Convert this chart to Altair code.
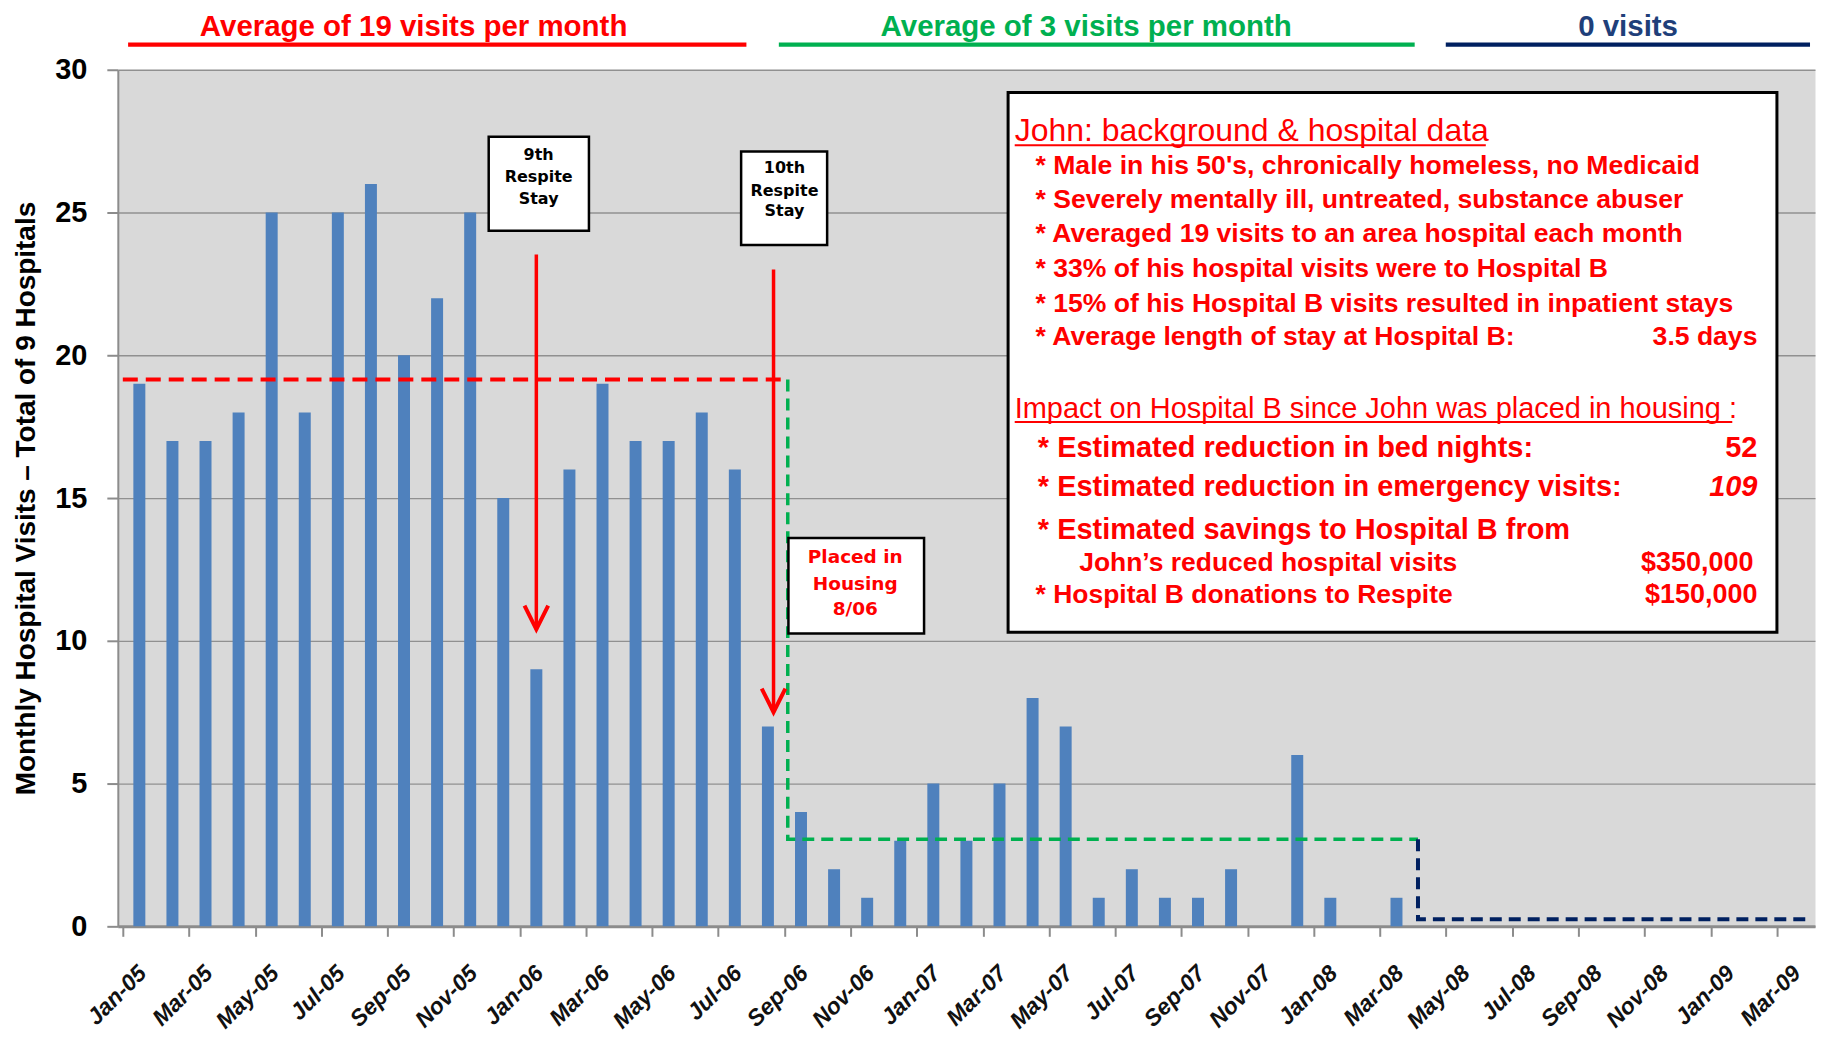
import altair as alt
import pandas as pd

# ---------------- data ----------------
months = list(pd.date_range("2005-01-01", "2009-03-01", freq="MS").strftime("%b-%y"))  # Jan-05 .. Mar-09
visits = [19, 17, 17, 18, 25, 18, 25, 26, 20, 22, 25, 15,   # 2005
          9, 16, 19, 17, 17, 18, 16, 7, 4, 2, 1, 3,          # 2006
          5, 3, 5, 8, 7, 1, 2, 1, 1, 2, 0, 6,                # 2007
          1, 0, 1]                                           # 2008 (Jan-Mar)

avg_before = 19.15
avg_after = 3.05
avg_none = 0.25
step_breaks = [20.1, 39.15]          # month index where the averages change

header_texts = ["Average of 19 visits per month", "Average of 3 visits per month", "0 visits"]

respite_x = [12.5, 19.67]            # month index of the two respite stays
respite_top = [23.53, 23.0]
respite_tip = [10.4, 7.5]

box9_lines = ["9th", "Respite", "Stay"]
box10_lines = ["10th", "Respite", "Stay"]
placed_lines = ["Placed in", "Housing", "8/06"]

panel_title1 = "John: background & hospital data"
panel_bullets = [
    "* Male in his 50's, chronically homeless, no Medicaid",
    "* Severely mentally ill, untreated, substance abuser",
    "* Averaged 19 visits to an area hospital each month",
    "* 33% of his hospital visits were to Hospital B",
    "* 15% of his Hospital B visits resulted in inpatient stays",
    "* Average length of stay at Hospital B:",
]
stay_value = "3.5 days"
panel_title2 = "Impact on Hospital B since John was placed in housing :"
impact_big = [
    "* Estimated reduction in bed nights:",
    "* Estimated reduction in emergency visits:",
    "* Estimated savings to Hospital B from",
]
impact_sub = "John’s reduced hospital visits"
impact_don = "* Hospital B donations to Respite"
val_beds = "52"
val_er = "109"
val_savings = "$350,000"
val_donations = "$150,000"

# ---------------- style ----------------
FONT = "Liberation Sans"
BOXFONT = "DejaVu Sans"
RED = "#ff0000"
GREEN = "#00b050"
NAVY = "#002060"
BLUE = "#4f81bd"
W, H = 1700, 858

xs = alt.Scale(domain=[0, 51], nice=False, zero=False)
ys = alt.Scale(domain=[0, 30], nice=False, zero=True)

label_expr = "[" + ",".join("'%s'" % m for m in months[::2]) + "][datum.value / 2]"

x_axis = alt.Axis(
    values=list(range(0, 51, 2)), labelExpr=label_expr, title=None, grid=False,
    labelAngle=-45, labelAlign="right", labelBaseline="middle",
    labelOffset=W / 51 / 2 + 3, labelPadding=33, labelFlush=False, labelOverlap=False,
    labelFont=FONT, labelFontSize=23, labelFontStyle="italic", labelFontWeight="bold",
    labelColor="#111111",
    tickSize=10, tickWidth=2, tickColor="#8c8c8c", domainColor="#8c8c8c", domainWidth=3,
)
y_axis = alt.Axis(
    values=[0, 5, 10, 15, 20, 25, 30], title="Monthly Hospital Visits – Total of 9 Hospitals",
    grid=True, gridColor="#909090", gridWidth=1.3,
    labelFont=FONT, labelFontSize=29, labelFontWeight="bold", labelColor="#000000", labelPadding=20,
    tickSize=11, tickWidth=2, tickColor="#8c8c8c", domainColor="#8c8c8c", domainWidth=2,
    titleFont=FONT, titleFontSize=28, titleFontWeight="bold", titleColor="#000000", titlePadding=14,
)


def X(field):
    return alt.X(field, type="quantitative", scale=xs, axis=x_axis)


def Y(field):
    return alt.Y(field, type="quantitative", scale=ys, axis=y_axis)


# ---------------- tables ----------------
bars_df = pd.DataFrame({"month": months[:len(visits)],
                        "x": [i + 0.5 for i in range(len(visits))],
                        "visits": visits})

red_df = pd.DataFrame({"x": [0, step_breaks[0]], "y": [avg_before, avg_before], "o": [0, 1]})
green_df = pd.DataFrame({"x": [step_breaks[0], step_breaks[0], step_breaks[1]],
                         "y": [avg_before, avg_after, avg_after], "o": [0, 1, 2]})
navy_df = pd.DataFrame({"x": [step_breaks[1], step_breaks[1], 51],
                        "y": [avg_after, avg_none, avg_none], "o": [0, 1, 2]})

arrows_df = pd.DataFrame({"x": respite_x, "top": respite_top, "tip": respite_tip})

header_df = pd.DataFrame({"t": header_texts, "x": [8.79, 29.12, 45.5], "y": [31.5] * 3,
                          "c": [RED, GREEN, "#1f3f7a"]})
header_lines_df = pd.DataFrame({"x0": [0.16, 19.83, 39.99], "x1": [18.85, 39.05, 51.0],
                                "y": [30.88] * 3, "c": [RED, GREEN, NAVY]})

small_boxes_df = pd.DataFrame({"x0": [11.06, 18.69, 20.12], "x1": [14.09, 21.29, 24.22],
                               "y0": [27.65, 27.14, 13.6], "y1": [24.36, 23.86, 10.26]})
box9_df = pd.DataFrame({"t": box9_lines, "x": [12.57] * 3, "y": [27.03, 26.24, 25.49]})
box10_df = pd.DataFrame({"t": box10_lines, "x": [20.0] * 3, "y": [26.56, 25.74, 25.05]})
placed_df = pd.DataFrame({"t": placed_lines, "x": [22.14] * 3, "y": [12.93, 12.0, 11.13]})

panel_df = pd.DataFrame({"x0": [26.76], "x1": [50.0], "y0": [29.2], "y1": [10.3]})
ptitle1_df = pd.DataFrame({"t": [panel_title1], "x": [26.96], "y": [27.87]})
ptitle2_df = pd.DataFrame({"t": [panel_title2], "x": [26.96], "y": [18.13]})
underline_df = pd.DataFrame({"x0": [26.96, 26.96], "x1": [41.2, 48.65], "y": [27.36, 17.66]})
bullets_df = pd.DataFrame({"t": panel_bullets, "x": [27.59] * 6,
                           "y": [26.62, 25.45, 24.23, 23.02, 21.81, 20.63]})
stay_df = pd.DataFrame({"t": [stay_value], "x": [49.41], "y": [20.63]})
big_df = pd.DataFrame({"t": impact_big, "x": [27.66] * 3, "y": [16.75, 15.38, 13.88]})
sub_df = pd.DataFrame({"t": [impact_sub, impact_don], "x": [28.91, 27.59], "y": [12.71, 11.62]})
vals_big_df = pd.DataFrame({"t": [val_beds], "x": [49.41], "y": [16.75]})
vals_it_df = pd.DataFrame({"t": [val_er], "x": [49.41], "y": [15.38]})
vals_money_df = pd.DataFrame({"t": [val_savings, val_donations], "x": [49.29, 49.41], "y": [12.71, 11.62]})

# ---------------- layers ----------------
bars = alt.Chart(bars_df).mark_bar(size=12, color=BLUE, orient="vertical").encode(
    x=X("x"), y=Y("visits"))

red_line = alt.Chart(red_df).mark_line(color=RED, strokeWidth=4, strokeDash=[15, 8]).encode(
    x=X("x"), y=Y("y"), order="o:Q")
green_line = alt.Chart(green_df).mark_line(color=GREEN, strokeWidth=3.5, strokeDash=[12, 7]).encode(
    x=X("x"), y=Y("y"), order="o:Q")
navy_line = alt.Chart(navy_df).mark_line(color=NAVY, strokeWidth=4, strokeDash=[12, 7]).encode(
    x=X("x"), y=Y("y"), order="o:Q")

arrow_shaft = alt.Chart(arrows_df).mark_rule(color=RED, strokeWidth=3.5).encode(
    x=X("x"), y=Y("top"), y2="tip")
arrow_head = alt.Chart(arrows_df).mark_point(
    shape="M-1,-2L0,0L1,-2", size=480, filled=False, strokeWidth=4, color=RED, opacity=1,
    strokeCap="square").encode(x=X("x"), y=Y("tip"))

small_boxes = alt.Chart(small_boxes_df).mark_rect(fill="white", stroke="black", strokeWidth=2.5).encode(
    x=X("x0"), x2="x1", y=Y("y0"), y2="y1")
box9 = alt.Chart(box9_df).mark_text(font=BOXFONT, fontSize=16, fontWeight="bold", color="black",
                                    align="center", baseline="middle").encode(x=X("x"), y=Y("y"), text="t")
box10 = alt.Chart(box10_df).mark_text(font=BOXFONT, fontSize=16, fontWeight="bold", color="black",
                                      align="center", baseline="middle").encode(x=X("x"), y=Y("y"), text="t")
placed = alt.Chart(placed_df).mark_text(font=BOXFONT, fontSize=18.5, fontWeight="bold", color=RED,
                                        align="center", baseline="middle").encode(x=X("x"), y=Y("y"), text="t")

panel = alt.Chart(panel_df).mark_rect(fill="white", stroke="black", strokeWidth=3).encode(
    x=X("x0"), x2="x1", y=Y("y0"), y2="y1")
ptitle1 = alt.Chart(ptitle1_df).mark_text(font=FONT, fontSize=32, color=RED, align="left",
                                          baseline="middle").encode(x=X("x"), y=Y("y"), text="t")
ptitle2 = alt.Chart(ptitle2_df).mark_text(font=FONT, fontSize=29, color=RED, align="left",
                                          baseline="middle").encode(x=X("x"), y=Y("y"), text="t")
underline = alt.Chart(underline_df).mark_rule(color=RED, strokeWidth=2).encode(
    x=X("x0"), x2="x1", y=Y("y"))
bullets = alt.Chart(bullets_df).mark_text(font=FONT, fontSize=26.6, fontWeight="bold", color=RED,
                                          align="left", baseline="middle").encode(x=X("x"), y=Y("y"), text="t")
stay = alt.Chart(stay_df).mark_text(font=FONT, fontSize=26.6, fontWeight="bold", color=RED,
                                    align="right", baseline="middle").encode(x=X("x"), y=Y("y"), text="t")
big = alt.Chart(big_df).mark_text(font=FONT, fontSize=29, fontWeight="bold", color=RED,
                                  align="left", baseline="middle").encode(x=X("x"), y=Y("y"), text="t")
sub = alt.Chart(sub_df).mark_text(font=FONT, fontSize=26.5, fontWeight="bold", color=RED,
                                  align="left", baseline="middle").encode(x=X("x"), y=Y("y"), text="t")
vals_big = alt.Chart(vals_big_df).mark_text(font=FONT, fontSize=29, fontWeight="bold", color=RED,
                                            align="right", baseline="middle").encode(x=X("x"), y=Y("y"), text="t")
vals_it = alt.Chart(vals_it_df).mark_text(font=FONT, fontSize=29, fontWeight="bold", fontStyle="italic",
                                          color=RED, align="right", baseline="middle").encode(
    x=X("x"), y=Y("y"), text="t")
vals_money = alt.Chart(vals_money_df).mark_text(font=FONT, fontSize=27, fontWeight="bold", color=RED,
                                                align="right", baseline="middle").encode(
    x=X("x"), y=Y("y"), text="t")

headers = alt.Chart(header_df).mark_text(font=FONT, fontSize=29.5, fontWeight="bold", align="center",
                                         baseline="middle").encode(
    x=X("x"), y=Y("y"), text="t", color=alt.Color("c:N", scale=None))
header_lines = alt.Chart(header_lines_df).mark_rule(strokeWidth=4.5).encode(
    x=X("x0"), x2="x1", y=Y("y"), color=alt.Color("c:N", scale=None))

chart = alt.layer(
    bars, red_line, green_line, navy_line, arrow_shaft, arrow_head,
    small_boxes, box9, box10, placed,
    panel, ptitle1, ptitle2, underline, bullets, stay, big, sub, vals_big, vals_it, vals_money,
    headers, header_lines,
).properties(
    width=W, height=H,
    padding={"left": 4, "top": 3, "right": 0, "bottom": 0},
).configure_view(fill="#d9d9d9", stroke="transparent")

chart.save("out.html", embed_options={"renderer": "svg", "actions": False})
